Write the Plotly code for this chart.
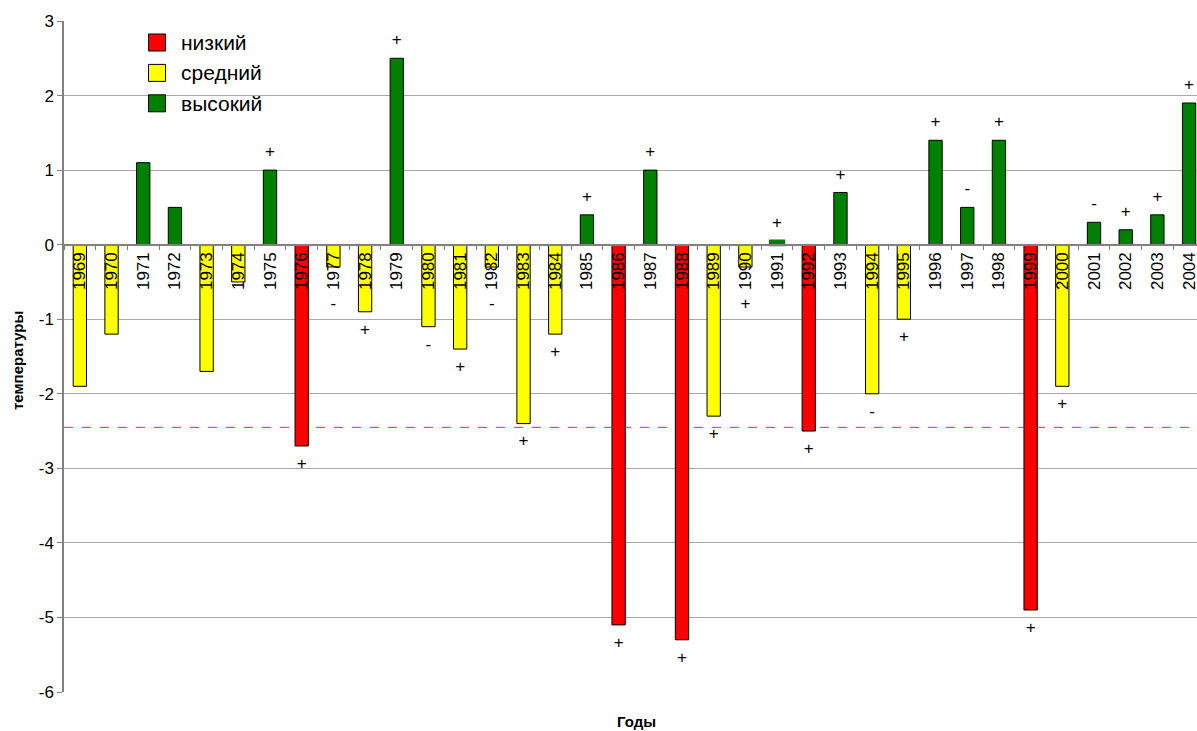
import plotly.graph_objects as go

# Years on the category axis
years = ["1969", "1970", "1971", "1972", "1973", "1974", "1975", "1976", "1977",
         "1978", "1979", "1980", "1981", "1982", "1983", "1984", "1985", "1986",
         "1987", "1988", "1989", "1990", "1991", "1992", "1993", "1994", "1995",
         "1996", "1997", "1998", "1999", "2000", "2001", "2002", "2003", "2004"]

# Temperature anomaly per year
anomalies = [-1.9, -1.2, 1.1, 0.5, -1.7, -0.5, 1.0, -2.7, -0.3,
             -0.9, 2.5, -1.1, -1.4, -0.3, -2.4, -1.2, 0.4, -5.1,
             1.0, -5.3, -2.3, -0.3, 0.05, -2.5, 0.7, -2.0, -1.0,
             1.4, 0.5, 1.4, -4.9, -1.9, 0.3, 0.2, 0.4, 1.9]

# Level class per year: low / mid / high
levels = ["mid", "mid", "high", "high", "mid", "mid", "high", "low", "mid",
          "mid", "high", "mid", "mid", "mid", "mid", "mid", "high", "low",
          "high", "low", "mid", "mid", "high", "low", "high", "mid", "mid",
          "high", "high", "high", "low", "mid", "high", "high", "high", "high"]

# Sign marks printed next to each bar
signs = ["", "", "", "", "", "", "+", "+", "-",
         "+", "+", "-", "+", "-", "+", "+", "+", "+",
         "+", "+", "+", "+", "+", "+", "+", "-", "+",
         "+", "-", "+", "+", "+", "-", "+", "+", "+"]

# Critical threshold line
threshold = -2.45

level_names = {"low": "низкий", "mid": "средний", "high": "высокий"}
level_colors = {"low": "#ff0000", "mid": "#ffff00", "high": "#008000"}
level_order = ["low", "mid", "high"]

Y_MIN, Y_MAX = -6, 3
W, H = 1197, 731
M_L, M_R, M_T, M_B = 64, 0, 21, 39
FONT = "Liberation Sans, Arial, sans-serif"


def px_x(px):
    return (px - M_L) / (W - M_L - M_R)


def px_y(py):
    return (H - M_B - py) / (H - M_T - M_B)


fig = go.Figure()

for lv in level_order:
    xs = [y for y, l in zip(years, levels) if l == lv]
    vs = [v for v, l in zip(anomalies, levels) if l == lv]
    # tiny bars are drawn as solid blocks in their own colour
    line_cols = [level_colors[lv] if abs(v) < 0.1 else "#000000" for v in vs]
    line_w = [3 if abs(v) < 0.1 else 1 for v in vs]
    fig.add_trace(go.Bar(
        x=xs, y=vs, name=level_names[lv], width=0.42,
        marker=dict(color=level_colors[lv], line=dict(color=line_cols, width=line_w)),
        showlegend=False,
    ))

# sign marks above positive bars and below negative ones
sx, sy, st = [], [], []
for y, v, s in zip(years, anomalies, signs):
    if not s:
        continue
    sx.append(y)
    st.append(s)
    sy.append(v + 0.23 if v > 0 else min(v - 0.25, -0.8))
fig.add_trace(go.Scatter(
    x=sx, y=sy, text=st, mode="text", showlegend=False,
    textfont=dict(family=FONT, size=17, color="#000000"),
    textposition="middle center", hoverinfo="skip",
))

fig.add_hline(y=threshold, line=dict(color="#ff00ff", width=1, dash="dash"), layer="below")

# legend block
shapes = [dict(type="rect", xref="paper", yref="paper",
               x0=px_x(120), x1=px_x(306), y0=px_y(122), y1=px_y(24),
               fillcolor="#ffffff", line=dict(width=0), layer="above")]
annotations = []
for i, lv in enumerate(level_order):
    cy = 42.5 + 30.4 * i
    shapes.append(dict(type="rect", xref="paper", yref="paper",
                       x0=px_x(148.5), x1=px_x(165.5),
                       y0=px_y(cy + 8.5), y1=px_y(cy - 8.5),
                       fillcolor=level_colors[lv], line=dict(color="#000000", width=1),
                       layer="above"))
    annotations.append(dict(xref="paper", yref="paper", x=px_x(179), y=px_y(cy),
                            xanchor="left", yanchor="middle", showarrow=False,
                            text=level_names[lv],
                            font=dict(family=FONT, size=21, color="#000000")))

annotations.append(dict(xref="paper", yref="paper", x=px_x(636), y=px_y(721),
                        xanchor="center", yanchor="middle", showarrow=False,
                        text="<b>Годы</b>", font=dict(family=FONT, size=15, color="#000000")))
annotations.append(dict(xref="paper", yref="paper", x=px_x(18), y=px_y(360),
                        xanchor="center", yanchor="middle", showarrow=False, textangle=-90,
                        text="<b>температуры</b>", font=dict(family=FONT, size=15, color="#000000")))

ytick_vals = list(range(Y_MIN, Y_MAX + 1))

fig.update_layout(
    width=W, height=H,
    margin=dict(l=M_L, r=M_R, t=M_T, b=M_B, pad=0),
    paper_bgcolor="#ffffff", plot_bgcolor="#ffffff",
    barmode="overlay",
    font=dict(family=FONT, size=17, color="#000000"),
    shapes=shapes, annotations=annotations,
    xaxis=dict(
        type="category", categoryorder="array", categoryarray=years,
        range=[-0.5, 35.25],
        anchor="free", position=(0 - Y_MIN) / (Y_MAX - Y_MIN),
        showline=True, linecolor="#808080", linewidth=1.5,
        ticks="outside", tickson="boundaries", ticklen=5, tickcolor="#808080",
        tickangle=-90, tickfont=dict(family=FONT, size=17, color="#000000"),
        showgrid=False, zeroline=False, automargin=False, fixedrange=True,
    ),
    yaxis=dict(
        range=[Y_MIN, Y_MAX],
        tickvals=ytick_vals, ticktext=[str(v) for v in ytick_vals],
        showline=True, linecolor="#808080", linewidth=1.5,
        ticks="outside", ticklen=5, tickcolor="#808080",
        tickfont=dict(family=FONT, size=17, color="#000000"),
        showgrid=True, gridcolor="#a8a8a8", gridwidth=1,
        zeroline=False, automargin=False, fixedrange=True,
    ),
)

fig.write_html("out.html")
